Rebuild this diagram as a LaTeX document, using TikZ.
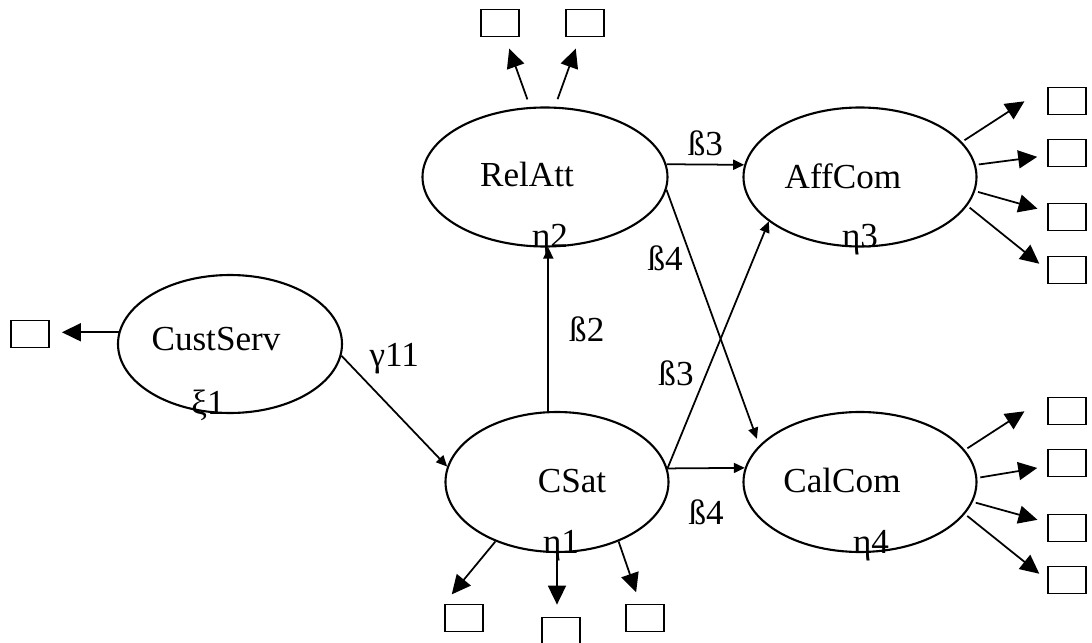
\documentclass[tikz,border=0pt]{standalone}
\usepackage{fontspec}
\setmainfont{Liberation Serif}
\usepackage{tikz}
\usetikzlibrary{shapes.geometric, arrows.meta, positioning, calc}
\tikzstyle{ind} = [line width=0.5pt, -{Triangle[length=1.9mm,width=1.8mm]}, shorten >=1.2mm]
\tikzstyle{eff} = [line width=0.5pt, -{Triangle[length=1.1mm,width=1mm]}]

\begin{document}
\begin{tikzpicture}[
    x=0.1mm, y=-0.1mm,
    every node/.style={font=\fontsize{10}{12}\selectfont},
    lat/.style={ellipse, draw, line width=0.6pt, inner sep=0pt},
    obs/.style={rectangle, draw, line width=0.5pt, minimum width=3.8mm, minimum height=2.7mm, inner sep=0pt},
    lbl/.style={inner sep=0pt},
    latname/.style={anchor=base, inner sep=0pt}
]
    \useasboundingbox (0,0) rectangle (1092,643);

    % Latent variables
    \node[lat, minimum width=22.4mm, minimum height=13.8mm] (cust) at (230,344) {};
    \node[lat, minimum width=24.5mm, minimum height=13.9mm] (relatt) at (545,177) {};
    \node[lat, minimum width=22.3mm, minimum height=14mm] (csat) at (557,482) {};
    \node[lat, minimum width=23.3mm, minimum height=13.9mm] (affcom) at (860,177) {};
    \node[lat, minimum width=23.3mm, minimum height=14mm] (calcom) at (860,482) {};

    \node[latname] at ([shift={(-14,7)}]cust.center) {CustServ};
    \node[latname] at ([shift={(-18,10)}]relatt.center) {RelAtt};
    \node[latname] at ([shift={(15,10)}]csat.center) {CSat};
    \node[latname] at ([shift={(-17,11)}]affcom.center) {AffCom};
    \node[latname] at ([shift={(-18,10)}]calcom.center) {CalCom};

    % Greek letters on the lower rim
    \node[latname] at ([xshift=-2.2mm]cust.south) {ξ1};
    \node[latname] at ([xshift=0.5mm]relatt.south) {η2};
    \node[latname] at ([xshift=0.4mm]csat.south) {η1};
    \node[latname] at (affcom.south) {η3};
    \node[latname] at ([xshift=1.1mm]calcom.south) {η4};

    % Indicators
    \node[obs] (xcust) at (30,334) {};
    \node[obs] (xrel1) at (500,23) {};
    \node[obs] (xrel2) at (585,23) {};
    \node[obs] (xcs1) at (464,618) {};
    \node[obs] (xcs2) at (561,631) {};
    \node[obs] (xcs3) at (645,618) {};
    \foreach \y [count=\i] in {101,153,217,270}
        \node[obs] (xaff\i) at (1067,\y) {};
    \foreach \y [count=\i] in {411,463,528,580}
        \node[obs] (xcal\i) at (1067,\y) {};

    % Measurement arrows
    \draw[ind] (cust.174) -- (cust.174 -| xcust.east);
    \draw[ind, shorten <=0.8mm] (relatt.102) -- (xrel1);
    \draw[ind, shorten <=0.8mm] (relatt.82) -- (xrel2);
    \draw[ind] (csat.-136) -- (xcs1.north west);
    \draw[ind] (csat.south) -- (csat.south |- xcs2.north);
    \draw[ind] (csat.-44) -- (xcs3);
    \foreach \a/\t/\s in {19/xaff1.north west/2.7mm, 6/xaff2/1mm, -7/xaff3/1mm, -15/xaff4.west/1mm}
        \draw[ind, shorten <=0.3mm, shorten >=\s] (affcom.\a) -- (\t);
    \foreach \a/\t/\s in {17/xcal1.north west/2.7mm, 2/xcal2/1mm, -10/xcal3/1mm, -17/xcal4.west/1mm}
        \draw[ind, shorten <=0.3mm, shorten >=\s] (calcom.\a) -- (\t);

    % Structural paths
    \draw[eff] (cust.-6) -- node[lbl, midway, yshift=5.2mm] {γ11} (csat.172);
    \draw[eff] (csat.97) -- node[lbl, midway, right=2mm] {ß2} (csat.97 |- relatt.south);
    \draw[eff] (relatt.6) -- node[lbl, midway, above=0.8mm] {ß3} (affcom.174);
    \draw[eff, shorten >=0.7mm] (relatt.-6) -- node[lbl, pos=0.27, left=0.8mm] {ß4} (calcom.160);
    \draw[eff] (csat.7) -- node[lbl, pos=0.385, left=1.2mm] {ß3} (affcom.206);
    \draw[eff] (csat.7) -- node[lbl, midway, below=3.1mm] {ß4} (calcom.173);
\end{tikzpicture}
\end{document}
